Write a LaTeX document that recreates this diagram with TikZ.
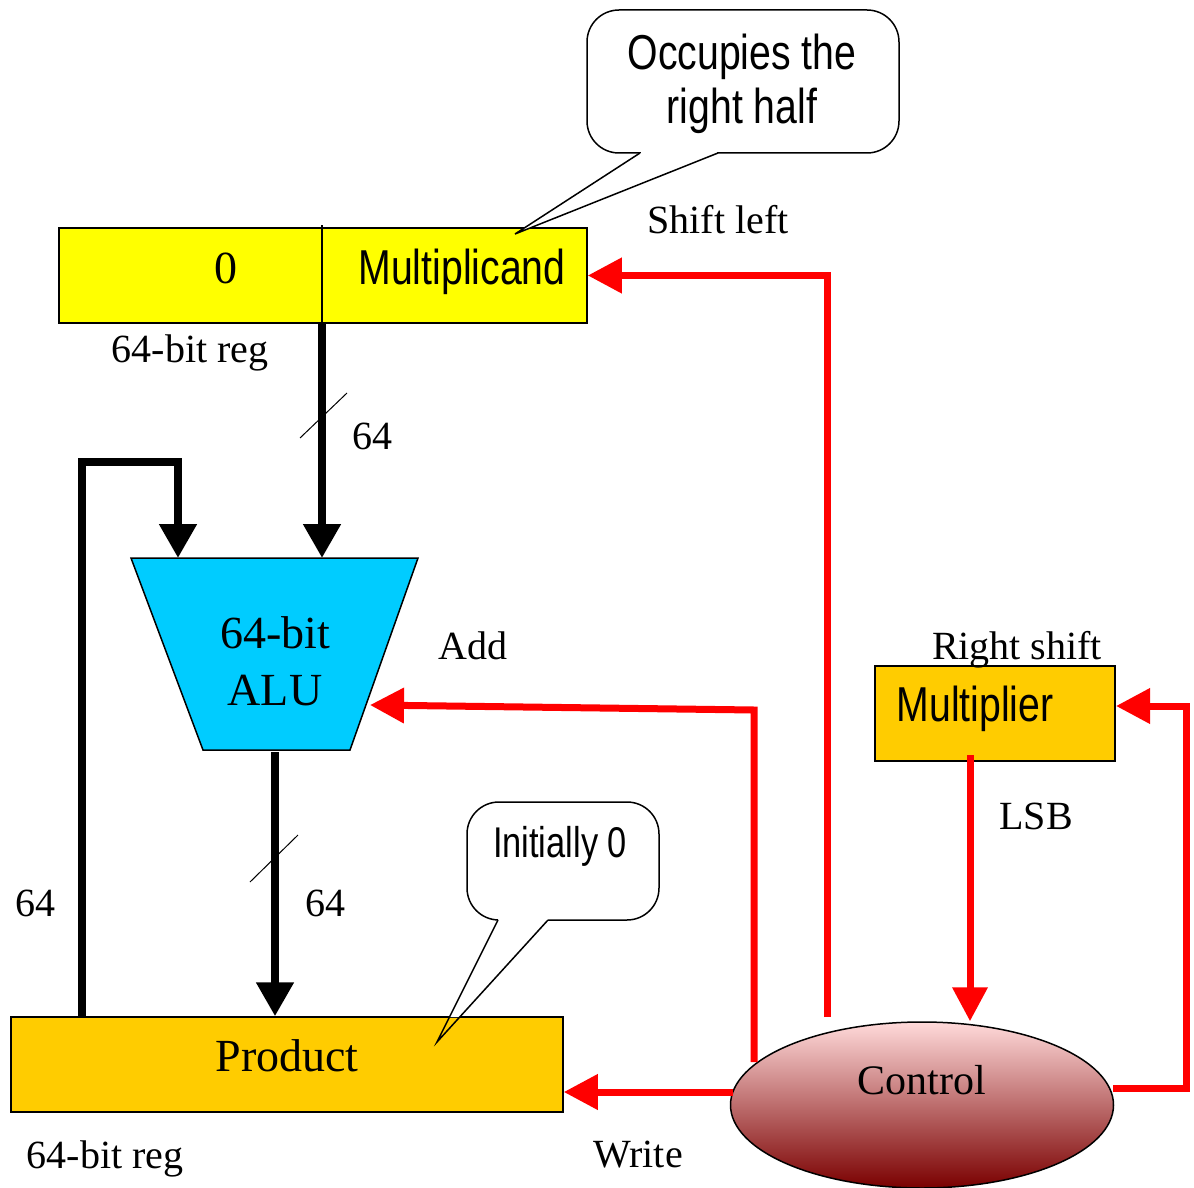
\documentclass[tikz,border=0pt]{standalone}
\usepackage{fontspec}
\setmainfont{Liberation Serif}
\newfontfamily\nsans[FakeStretch=0.8]{Liberation Sans}
\usetikzlibrary{arrows.meta,shapes.geometric}
\definecolor{regyellow}{HTML}{FFFF00}
\definecolor{regorange}{HTML}{FFCC00}
\definecolor{alucyan}{HTML}{00CCFF}
\definecolor{ctltop}{HTML}{FFDADA}
\definecolor{ctlmid}{HTML}{E88484}
\definecolor{ctlbot}{HTML}{7A0000}
\tikzset{
 box/.style={draw=black, line width=1.5pt, inner sep=0pt},
 bus/.style={line width=8pt, black},
 busarr/.style={bus, -{Triangle[width=36pt,length=34pt]}},
 ctl/.style={line width=7pt, red},
 ctlarr/.style={ctl, -{Triangle[width=34pt,length=34pt]}},
 tickmark/.style={line width=1pt},
 lbl/.style={font=\fontsize{40}{46}\selectfont, anchor=base, inner sep=0pt},
 big/.style={font=\fontsize{46}{52}\selectfont, anchor=base, inner sep=0pt},
 sans/.style={font=\fontsize{49}{54}\nsans, anchor=base, inner sep=0pt},
 callout/.style={draw, line width=1.5pt, fill=white, rounded corners=32pt, inner sep=0pt}
}
\begin{document}
\begin{tikzpicture}[x=1pt,y=-1pt]
\useasboundingbox (0,0) rectangle (1194,1188);

% top register
\node[box, fill=regyellow, minimum width=528pt, minimum height=95pt] (mreg) at (323,275.5) {};
\draw[line width=1.5pt] (322,225) -- (322,323);
\node[big] (zero) at (226,283) {0};
\node[sans] (mcand) at (462,284) {Multiplicand};
\node[lbl] (reg1) at (190,362) {64-bit reg};

% callout 1
\node[callout, minimum width=312pt, minimum height=143pt] (c1) at (743,81.5) {};
\fill[white] (641,150) -- (641,153) -- (515,234) -- (717,153) -- (717,150) -- cycle;
\draw[line width=1.5pt, line join=miter] (640,153) -- (515,234) -- (718,153);
\node[sans] (c1a) at (742,70) {Occupies the};
\node[sans] (c1b) at (742,124) {right half};
\node[lbl] (shl) at (718,233) {Shift left};

% ALU
\coordinate (aluTL) at (131,558);
\coordinate (aluTR) at (418,558);
\coordinate (aluBR) at (350,750);
\coordinate (aluBL) at (203,750);
\draw[line width=1.5pt, fill=alucyan] (aluTL) -- (aluTR) -- (aluBR) -- (aluBL) -- cycle;
\node[big] (alu1) at (275,648) {64-bit};
\node[big] (alu2) at (275,705) {ALU};
\coordinate (aluIn1) at (178,558);
\coordinate (aluIn2) at (322,558);
\coordinate (aluOut) at (275,752);
\coordinate (aluCtl) at (370,705);

% product
\node[box, fill=regorange, minimum width=552pt, minimum height=95pt] (prod) at (287,1064.5) {};
\node[big] (prodtxt) at (287,1071) {Product};
\node[lbl] (reg2) at (105,1168) {64-bit reg};

% buses
\coordinate (fbS) at (82,1017);
\draw[busarr] (mreg.south -| aluIn2) -- (aluIn2);
\draw[busarr] (fbS) -- (82,462) -- (178,462) -- (aluIn1);
\draw[busarr] (aluOut) -- (aluOut |- prod.north);
\draw[tickmark] (300,438) -- (347,393);
\draw[tickmark] (250,882) -- (298,835);
\node[lbl] (w1) at (372,449) {64};
\node[lbl] (w2) at (325,916) {64};
\node[lbl] (w3) at (35,916) {64};

% callout 2
\node[callout, minimum width=192pt, minimum height=118pt] (c2) at (563,861) {};
\fill[white] (499,917) -- (498,920) -- (449.5,1017) -- (459.7,1017) -- (548,920) -- (547,917) -- cycle;
\draw[line width=1.5pt, line join=miter] (498,920) -- (437,1042) -- (548,920);
\node[sans, font=\fontsize{43}{48}\nsans] (c2a) at (560,857) {Initially 0};

% multiplier
\node[box, fill=regorange, minimum width=240pt, minimum height=95pt] (mplier) at (995,713.5) {};
\node[sans] (mptxt) at (975,721) {Multiplier};
\node[lbl] (rsh) at (1017,659) {Right shift};
\node[lbl] (lsb) at (1036,829) {LSB};

% control
\node[ellipse, draw, line width=1.5pt, top color=ctltop, middle color=ctlmid, bottom color=ctlbot, minimum width=383pt, minimum height=166pt, inner sep=0pt] (ctrl) at (922,1105) {};
\node[big, font=\fontsize{42}{48}\selectfont] (ctltxt) at (922,1094) {Control};

% control signals
\coordinate (wrS) at (733,1092);
\draw[ctlarr] (wrS) -- (wrS -| prod.east);
\node[lbl] (wr) at (638,1167) {Write};

\coordinate (addS) at (754,1062);
\draw[ctlarr] (addS) -- (754,710) -- (aluCtl);
\node[lbl] (addl) at (473,659) {Add};

\coordinate (shS) at (827,1017);
\draw[ctlarr] (shS) |- (mreg.east);

\coordinate (lsbS) at (970,755);
\draw[ctlarr] (lsbS) -- (lsbS |- ctrl.north);

\coordinate (rlS) at (1113,1088);
\coordinate (rlT) at (1116,706);
\draw[ctlarr] (rlS) -- (1186,1088) |- (rlT);
\end{tikzpicture}
\end{document}
